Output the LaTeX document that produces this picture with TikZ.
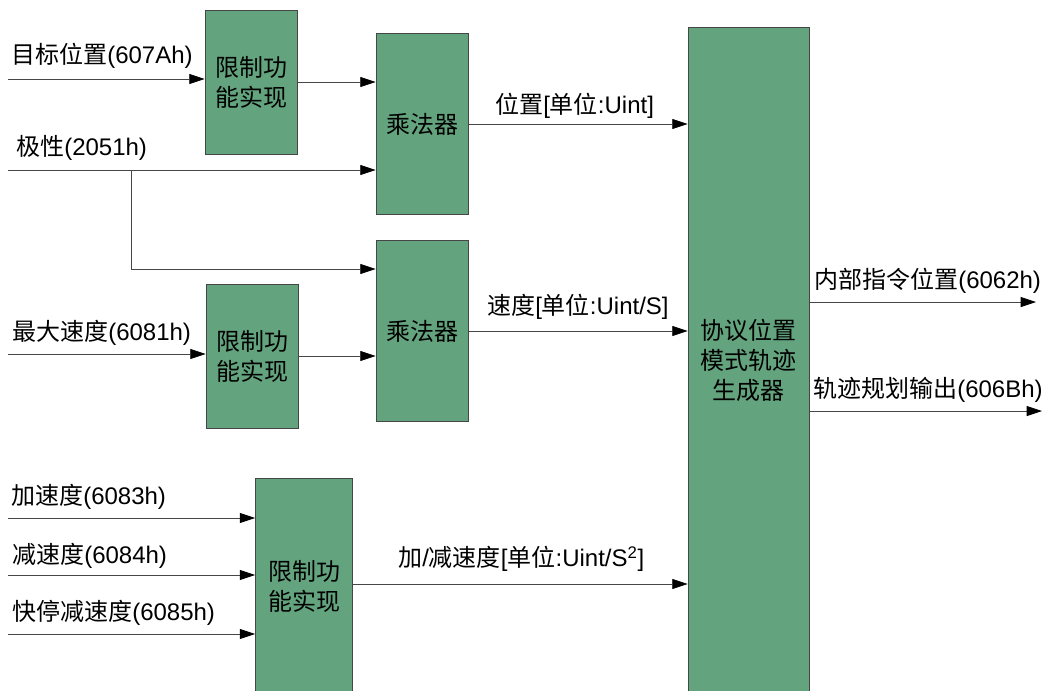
\documentclass[tikz,border=0pt]{standalone}
\usepackage{fontspec}
\setmainfont{Liberation Sans}
\newfontfamily\zhfont{Noto Sans CJK SC}
\newcommand{\zh}[1]{{\zhfont #1}}
\usetikzlibrary{arrows.meta}
\definecolor{boxgreen}{RGB}{99,164,127}
\definecolor{linegray}{RGB}{70,70,70}

\begin{document}
\begin{tikzpicture}[x=0.75pt,y=-0.75pt,
        box/.style={draw=linegray,fill=boxgreen,line width=0.6pt,align=center,inner sep=0pt,
            font=\fontsize{18}{22.5}\selectfont\zhfont},
        lbl/.style={anchor=west,inner sep=0pt,font=\fontsize{18}{22}\selectfont},
        arr/.style={draw=linegray,line width=0.6pt,-{Triangle[length=11.5pt,width=7.5pt,color=black]}}]
        \useasboundingbox (0,0) rectangle (1049,690);

        % blocks
        \node[box,minimum width=69pt,minimum height=108pt] (lim1) at (251,82) {限制功\\能实现};
        \node[box,minimum width=69pt,minimum height=135.75pt] (mul1) at (422,124) {乘法器};
        \node[box,minimum width=69pt,minimum height=135.75pt] (mul2) at (422,331) {乘法器};
        \node[box,minimum width=69pt,minimum height=108pt] (lim2) at (252,356) {限制功\\能实现};
        \node[box,minimum width=72.75pt,minimum height=162pt] (lim3) at (304,586) {限制功\\能实现};
        \node[box,minimum width=90.75pt,minimum height=500.25pt] (gen) at (748.5,360.5) {协议位置\\模式轨迹\\生成器};

        % free ends
        \coordinate (in1) at (8,79);
        \coordinate (in2) at (8,170);
        \coordinate (split) at (131,170);
        \coordinate (bend) at (131,269);
        \coordinate (in3) at (8,354);
        \coordinate (in4) at (8,518);
        \coordinate (in5) at (8,575);
        \coordinate (in6) at (8,634);
        \coordinate (out1) at (1036,302);
        \coordinate (out2) at (1042,411);

        % connectors
        \draw[arr] (in1) -- (in1 -| lim1.west);
        \draw[arr] (lim1.east) -- (lim1.east -| mul1.west);
        \draw[arr] (in2) -- (in2 -| mul1.west);
        \draw[arr] (split) -- (bend) -- (bend -| mul2.west);
        \draw[arr] (in3) -- (in3 -| lim2.west);
        \draw[arr] (lim2.east) -- (lim2.east -| mul2.west);
        \draw[arr] (mul1.east) -- (mul1.east -| gen.west);
        \draw[arr] (mul2.east) -- (mul2.east -| gen.west);
        \foreach \from in {in4,in5,in6}
            \draw[arr] (\from) -- (\from -| lim3.west);
        \draw[arr] (lim3.east |- 0,584) -- (gen.west |- 0,584);
        \draw[arr] (gen.east |- out1) -- (out1);
        \draw[arr] (gen.east |- out2) -- (out2);

        % labels
        \node[lbl] (t1) at (11,56) {\zh{目标位置}(607Ah)};
        \node[lbl] (t2) at (16,148) {\zh{极性}(2051h)};
        \node[lbl] (t3) at (12,333) {\zh{最大速度}(6081h)};
        \node[lbl] (t4) at (11,497) {\zh{加速度}(6083h)};
        \node[lbl] (t5) at (12,556) {\zh{减速度}(6084h)};
        \node[lbl] (t6) at (12,613) {\zh{快停减速度}(6085h)};
        \node[lbl] (p1) at (495,106) {\zh{位置}[\zh{单位}:Uint]};
        \node[lbl] (p2) at (487,307) {\zh{速度}[\zh{单位}:Uint/S]};
        \node[lbl] (p3) at (398,559) {\zh{加}/\zh{减速度}[\zh{单位}:Uint/S\textsuperscript{2}]};
        \node[lbl] (o1) at (814,281) {\zh{内部指令位置}(6062h)};
        \node[lbl] (o2) at (813,390) {\zh{轨迹规划输出}(606Bh)};
    \end{tikzpicture}
\end{document}
